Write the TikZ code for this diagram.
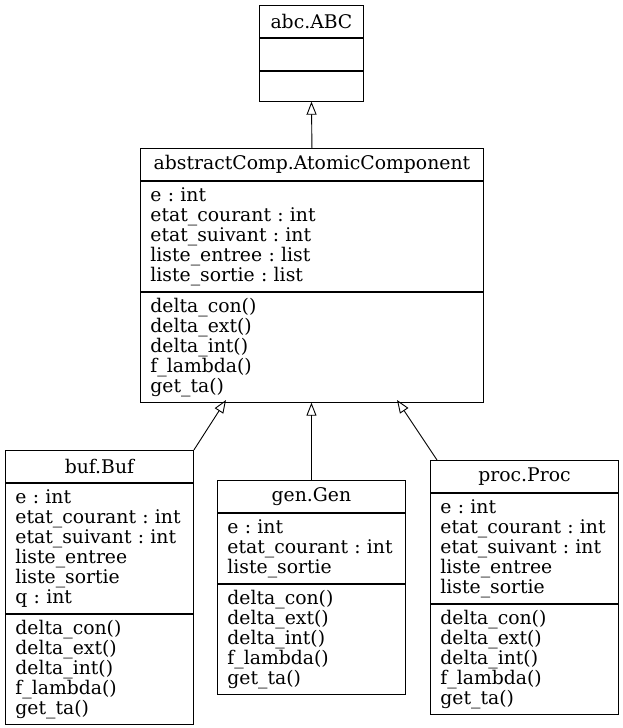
\documentclass[tikz,border=0pt]{standalone}
\usepackage{fontspec}
\newfontfamily\umlfont{DejaVu Serif}
\usetikzlibrary{arrows.meta}
\begin{document}
\begin{tikzpicture}[x=1pt,y=-1pt,
  compbox/.style={draw, rectangle, line width=0.9pt, inner xsep=10pt, inner ysep=0pt,
    font=\umlfont\fontsize{18.8}{20}\selectfont\frenchspacing, anchor=north west},
  titlebox/.style={compbox, align=center},
  listbox/.style={compbox, align=left},
  inherit/.style={line width=0.9pt, -{Triangle[open, length=13pt, width=10pt, line width=0.9pt]}}
]
\useasboundingbox (0,0) rectangle (623,728);

% abc.ABC
\node[titlebox, minimum width=104pt, minimum height=32pt] (abcT) at (259,5) {abc.ABC};
\node[listbox, text width=84pt, minimum height=32pt] (abcA) at (abcT.south west) {};
\node[listbox, text width=84pt, minimum height=30pt] (abcM) at (abcA.south west) {};

% abstractComp.AtomicComponent
\node[titlebox, minimum width=343pt, minimum height=32pt] (atomT) at (140,148) {abstractComp.AtomicComponent};
\node[listbox, text width=323pt, minimum height=110pt] (atomA) at (atomT.south west)
  {e : int\\etat\_courant : int\\etat\_suivant : int\\liste\_entree : list\\liste\_sortie : list};
\node[listbox, text width=323pt, minimum height=110pt] (atomM) at (atomA.south west)
  {delta\_con()\\delta\_ext()\\delta\_int()\\f\_lambda()\\get\_ta()};

% buf.Buf
\node[titlebox, minimum width=188pt, minimum height=32pt] (bufT) at (5,450) {buf.Buf};
\node[listbox, text width=168pt, minimum height=130pt] (bufA) at (bufT.south west)
  {e : int\\etat\_courant : int\\etat\_suivant : int\\liste\_entree\\liste\_sortie\\q : int};
\node[listbox, text width=168pt, minimum height=110pt] (bufM) at (bufA.south west)
  {delta\_con()\\delta\_ext()\\delta\_int()\\f\_lambda()\\get\_ta()};

% gen.Gen
\node[titlebox, minimum width=188pt, minimum height=32pt] (genT) at (217,480) {gen.Gen};
\node[listbox, text width=168pt, minimum height=70pt] (genA) at (genT.south west)
  {e : int\\etat\_courant : int\\liste\_sortie};
\node[listbox, text width=168pt, minimum height=110pt] (genM) at (genA.south west)
  {delta\_con()\\delta\_ext()\\delta\_int()\\f\_lambda()\\get\_ta()};

% proc.Proc
\node[titlebox, minimum width=188pt, minimum height=32pt] (procT) at (430,460) {proc.Proc};
\node[listbox, text width=168pt, minimum height=110pt] (procA) at (procT.south west)
  {e : int\\etat\_courant : int\\etat\_suivant : int\\liste\_entree\\liste\_sortie};
\node[listbox, text width=168pt, minimum height=110pt] (procM) at (procA.south west)
  {delta\_con()\\delta\_ext()\\delta\_int()\\f\_lambda()\\get\_ta()};

% connector end points
\coordinate (bufTip) at (226,400);
\coordinate (procTip) at (397,400);
\coordinate (procStart) at (437,460);

\draw[inherit] (atomT.north) -- (abcM.south);
\draw[inherit] (bufT.north east) -- (bufTip);
\draw[inherit] (genT.north) -- (genT.north |- atomM.south);
\draw[inherit] (procStart) -- (procTip);
\end{tikzpicture}
\end{document}
